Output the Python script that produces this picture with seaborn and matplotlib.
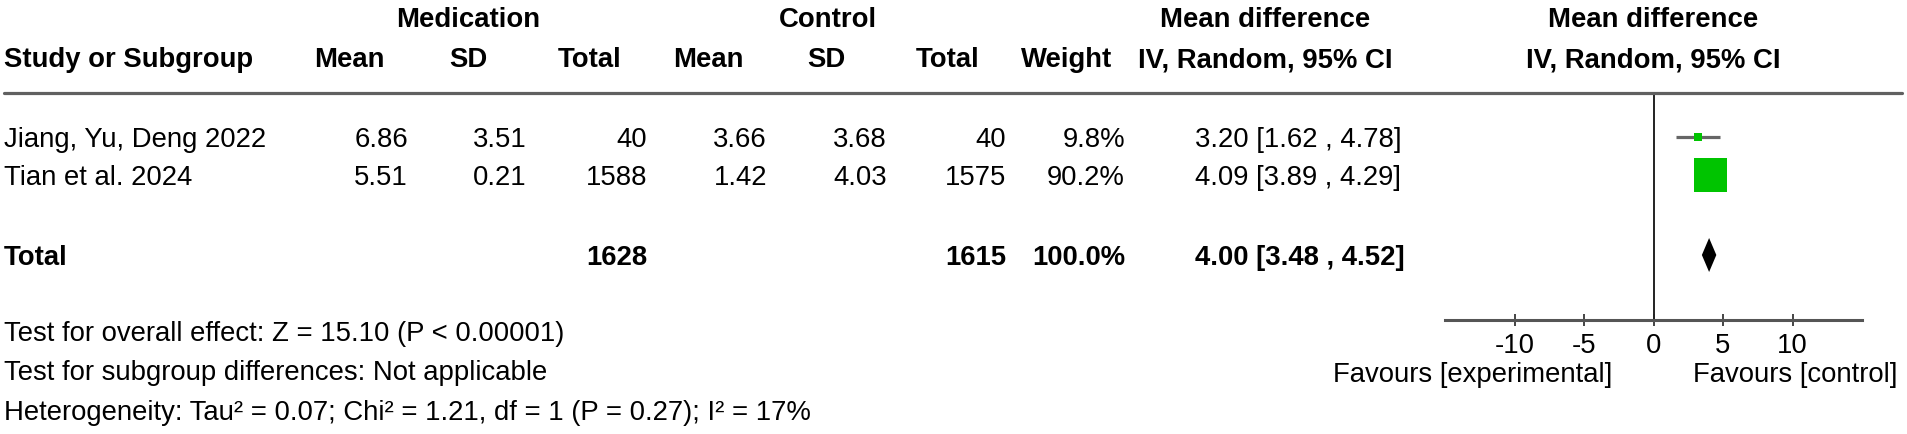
import numpy as np
import pandas as pd
import matplotlib
matplotlib.use('Agg')
import matplotlib.pyplot as plt
from matplotlib.lines import Line2D
import seaborn as sns

# ---- data ----
studies = ['Jiang, Yu, Deng 2022', 'Tian et al. 2024']
med_mean = [6.86, 5.51]
med_sd = [3.51, 0.21]
med_n = [40, 1588]
ctl_mean = [3.66, 1.42]
ctl_sd = [3.68, 4.03]
ctl_n = [40, 1575]
weight = [9.8, 90.2]
md = [3.20, 4.09]
ci_lo = [1.62, 3.89]
ci_hi = [4.78, 4.29]

total_med_n = 1628
total_ctl_n = 1615
total_weight = 100.0
total_md = 4.00
total_lo = 3.48
total_hi = 4.52

x_ticks = [-10, -5, 0, 5, 10]
x_range = (-15, 15)

footer = ['Test for overall effect: Z = 15.10 (P < 0.00001)',
          'Test for subgroup differences: Not applicable',
          'Heterogeneity: Tau\u00b2 = 0.07; Chi\u00b2 = 1.21, df = 1 (P = 0.27); I\u00b2 = 17%']

# ---- layout (pixels) ----
W, H = 1907, 434
FS = 19.8
col_right = [408, 527, 647, 767, 887, 1006, 1125]
col_head = [349, 468, 590, 708, 826, 948, 1067]
ci_left = 1195
ci_head = 1265
row_y0, row_pitch = 137, 38
total_y = 255
line_y = 93
axis_y = 320
plot_l, plot_r = 1445, 1862
zero_x = 1653
BASE = 10  # centre -> baseline offset

sns.set_theme(style='white')
plt.rcParams['font.family'] = ['Liberation Sans', 'DejaVu Sans']

fig = plt.figure(figsize=(W / 100, H / 100), dpi=100)
fig.patch.set_facecolor('white')


def put(x, y, s, ha='left', bold=False):
    fig.text(x / W, 1 - (y + BASE) / H, s, ha=ha, va='baseline', fontsize=FS,
             fontweight='bold' if bold else 'normal', color='black')


# header
put(468, 17, 'Medication', 'center', True)
put(828, 17, 'Control', 'center', True)
put(ci_head, 17, 'Mean difference', 'center', True)
put(zero_x, 17, 'Mean difference', 'center', True)
put(4, 57, 'Study or Subgroup', 'left', True)
for x, s in zip(col_head, ['Mean', 'SD', 'Total', 'Mean', 'SD', 'Total', 'Weight']):
    put(x, 57, s, 'center', True)
put(ci_head, 57, 'IV, Random, 95% CI', 'center', True)
put(zero_x, 57, 'IV, Random, 95% CI', 'center', True)

fig.add_artist(Line2D([4 / W, 1902 / W], [1 - line_y / H] * 2, color='#606060', lw=2.3))

# study rows
for i, name in enumerate(studies):
    y = row_y0 + i * row_pitch
    put(4, y, name)
    vals = [f'{med_mean[i]:.2f}', f'{med_sd[i]:.2f}', f'{med_n[i]}',
            f'{ctl_mean[i]:.2f}', f'{ctl_sd[i]:.2f}', f'{ctl_n[i]}', f'{weight[i]:.1f}%']
    for x, s in zip(col_right, vals):
        put(x, y, s, 'right')
    put(ci_left, y, f'{md[i]:.2f} [{ci_lo[i]:.2f} , {ci_hi[i]:.2f}]')

# total row
put(4, total_y, 'Total', bold=True)
put(col_right[2], total_y, f'{total_med_n}', 'right', True)
put(col_right[5], total_y, f'{total_ctl_n}', 'right', True)
put(col_right[6], total_y, f'{total_weight:.1f}%', 'right', True)
put(ci_left, total_y, f'{total_md:.2f} [{total_lo:.2f} , {total_hi:.2f}]', bold=True)

# footer
for k, s in enumerate(footer):
    put(4, 331 + 39.5 * k, s)

# ---- forest plot ----
ax = fig.add_axes([plot_l / W, 1 - axis_y / H, (plot_r - plot_l) / W, (axis_y - line_y) / H])
ax.set_xlim(*x_range)
ax.set_ylim(axis_y, line_y)
ax.patch.set_alpha(0)

df = pd.DataFrame({'md': md, 'lo': ci_lo, 'hi': ci_hi, 'weight': weight,
                   'row': [row_y0 + i * row_pitch for i in range(len(studies))]})

ax.axvline(0, color='#222222', lw=1.4, zorder=1)
ax.hlines(df['row'], df['lo'], df['hi'], color='#666666', lw=2.3, zorder=2)
sns.scatterplot(data=df, x='md', y='row', size='weight', sizes=(28, 565),
                size_norm=(min(weight), max(weight)), marker='s', color='#00c400',
                linewidth=0, legend=False, ax=ax, zorder=3)
ax.fill([total_lo, total_md, total_hi, total_md],
        [total_y, total_y - 17, total_y, total_y + 17], color='black', lw=0, zorder=3)

for side in ['left', 'right', 'top']:
    ax.spines[side].set_visible(False)
ax.spines['bottom'].set_color('#555555')
ax.spines['bottom'].set_linewidth(2.2)
ax.set_yticks([])
ax.set_xticks(x_ticks)
ax.set_xticklabels([str(t) for t in x_ticks])
ax.tick_params(axis='x', direction='inout', length=9, width=1.4, color='#444444',
               labelsize=FS, labelcolor='black', pad=5, bottom=True)
ax.set_xlabel('')
ax.set_ylabel('')
ax.grid(False)

put(1612, 372, 'Favours [experimental]', 'right')
put(1693, 372, 'Favours [control]', 'left')

fig.savefig('out.png', dpi=100, facecolor='white')
